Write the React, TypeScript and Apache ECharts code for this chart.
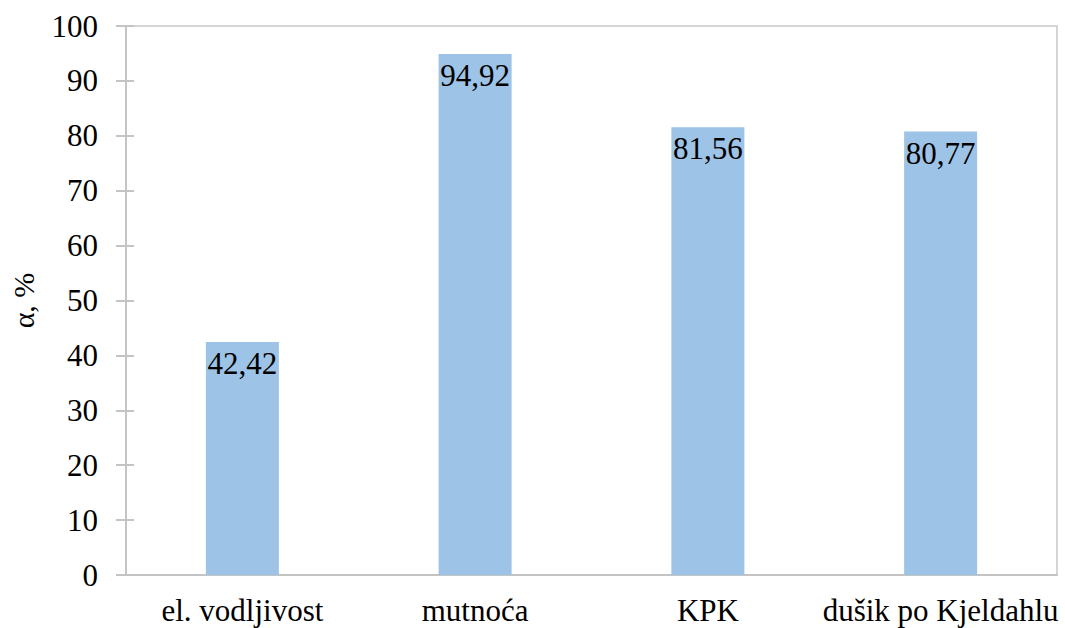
import React, { useEffect, useRef } from "react";
import * as echarts from "echarts";

const categories = ["el. vodljivost", "mutnoća", "KPK", "dušik po Kjeldahlu"];
const values = [42.42, 94.92, 81.56, 80.77];
const yTicks = { min: 0, max: 100, interval: 10 };
const yTitle = "α, %";

const FONT = "Liberation Serif, Times New Roman, serif";

export default function App() {
  const ref = useRef<HTMLDivElement>(null);
  useEffect(() => {
    document.body.style.margin = "0";
    if (!ref.current) return;
    const chart = echarts.init(ref.current, undefined, { renderer: "svg" });
    chart.setOption({
      animation: false,
      textStyle: { fontFamily: FONT },
      grid: {
        left: 125,
        right: 8,
        top: 26,
        bottom: 53,
        show: true,
        borderColor: "#c8c8c8",
        borderWidth: 1.5,
        backgroundColor: "transparent",
      },
      xAxis: {
        type: "category",
        data: categories,
        axisLine: { show: true, lineStyle: { color: "#c4c4c4", width: 2 } },
        axisTick: { show: false },
        axisLabel: {
          color: "#000",
          fontFamily: FONT,
          fontSize: 31,
          margin: 20,
          interval: 0,
        },
      },
      yAxis: [
        {
          type: "value",
          min: yTicks.min,
          max: yTicks.max,
          interval: yTicks.interval,
          name: yTitle,
          nameLocation: "middle",
          nameRotate: 90,
          nameGap: 88,
          nameTextStyle: { color: "#000", fontFamily: FONT, fontSize: 30 },
          axisLine: { show: true, lineStyle: { color: "#c4c4c4", width: 2 } },
          axisTick: { show: true, length: 10, lineStyle: { color: "#c4c4c4", width: 2 } },
          splitLine: { show: false },
          axisLabel: {
            color: "#000",
            fontFamily: FONT,
            fontSize: 31,
            margin: 28,
          },
        },
        {
          type: "value",
          position: "left",
          min: yTicks.min,
          max: yTicks.max,
          interval: yTicks.interval,
          axisLine: { show: false },
          axisTick: { show: true, inside: true, length: 8, lineStyle: { color: "#c4c4c4", width: 2 } },
          axisLabel: { show: false },
          splitLine: { show: false },
        },
      ],
      series: [
        {
          type: "bar",
          data: values,
          barWidth: 73,
          itemStyle: { color: "#9DC3E6" },
          label: {
            show: true,
            position: "insideTop",
            distance: 6,
            color: "#000",
            fontFamily: FONT,
            fontSize: 31,
            formatter: (p: any) => String(p.value).replace(".", ","),
          },
        },
      ],
    });
    return () => chart.dispose();
  }, []);
  return <div ref={ref} style={{ width: 1065, height: 628 }} />;
}
